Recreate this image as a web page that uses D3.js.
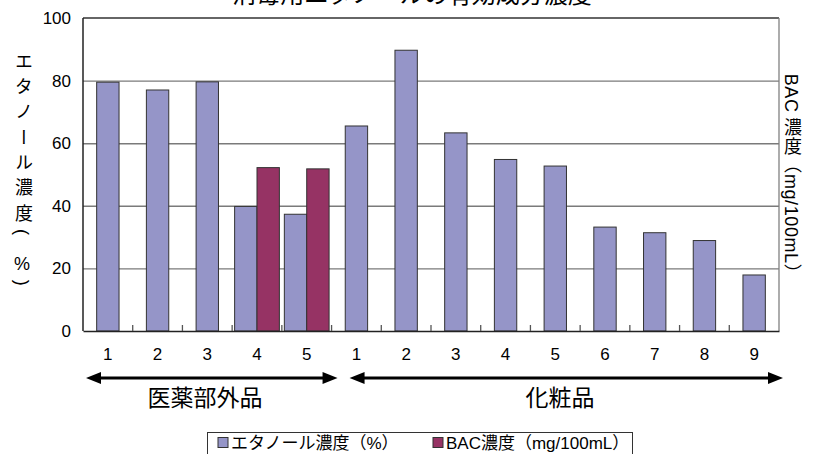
<!DOCTYPE html>
<html>
<head>
<meta charset="utf-8">
<script src="https://cdn.jsdelivr.net/npm/d3@7"></script>
<style>
  body { margin: 0; background: #fff; }
  text { font-family: "Liberation Sans", "Noto Sans CJK JP", sans-serif; fill: #000; }
</style>
</head>
<body>
<div id="chart"></div>
<script>
// Step 1: Data
// ==============================================================================
var groupNames = ["医薬部外品", "化粧品"];
var groupSizes = [5, 9];
var sampleLabels = ["1", "2", "3", "4", "5", "1", "2", "3", "4", "5", "6", "7", "8", "9"];
var ethanol = [79.5, 77, 79.6, 39.8, 37.3, 65.5, 89.7, 63.3, 54.8, 52.7, 33.2, 31.4, 28.9, 17.9];
var bac = [null, null, null, 52.2, 51.8, null, null, null, null, null, null, null, null, null];
var yTicks = [0, 20, 40, 60, 80, 100];
var seriesNames = ["エタノール濃度（%）", "BAC濃度（mg/100mL）"];
var colors = ["#9595c8", "#963364"];

// Step 2: Canvas
// ==============================================================================
var svgWidth = 814;
var svgHeight = 454;
var margin = { top: 18, right: 35, bottom: 123, left: 83 };
var width = svgWidth - margin.left - margin.right;
var height = svgHeight - margin.top - margin.bottom;

var svg = d3.select("#chart")
  .append("svg")
  .attr("width", svgWidth)
  .attr("height", svgHeight);

var chartGroup = svg.append("g")
  .attr("transform", `translate(${margin.left}, ${margin.top})`);

// Step 3: Scales
// ==============================================================================
var xScale = d3.scaleBand()
  .domain(d3.range(sampleLabels.length))
  .range([0, width]);
var yScale = d3.scaleLinear().domain([0, 100]).range([height, 0]);
var bw = xScale.bandwidth();
var barW = bw * 0.45;

// Step 4: Gridlines + left axis
// ==============================================================================
var leftAxis = d3.axisLeft(yScale)
  .tickValues(yTicks)
  .tickSize(-width)
  .tickPadding(12);

var yAxisG = chartGroup.append("g").call(leftAxis);
yAxisG.select(".domain").remove();
yAxisG.selectAll(".tick line")
  .attr("stroke", d => (d === 0 || d === 100) ? "none" : "#7a7a7a")
  .attr("stroke-width", 1.4);
yAxisG.selectAll(".tick text")
  .attr("font-size", 17)
  .attr("font-family", "Liberation Sans, sans-serif");

// plot frame
chartGroup.append("line")
  .attr("x1", 0).attr("x2", width).attr("y1", 0).attr("y2", 0)
  .attr("stroke", "#333").attr("stroke-width", 1.5);
chartGroup.append("line")
  .attr("x1", width).attr("x2", width).attr("y1", 0).attr("y2", height)
  .attr("stroke", "#808080").attr("stroke-width", 1.3);

// Step 5: Bars
// ==============================================================================
var rows = sampleLabels.map(function(lab, i) {
  return { i: i, eth: ethanol[i], bac: bac[i] };
});

chartGroup.selectAll(".ethBar")
  .data(rows)
  .enter()
  .append("rect")
  .attr("class", "ethBar")
  .attr("x", d => d.bac == null ? xScale(d.i) + (bw - barW) / 2 : xScale(d.i) + bw / 2 - barW)
  .attr("y", d => yScale(d.eth))
  .attr("width", barW)
  .attr("height", d => height - yScale(d.eth))
  .attr("fill", colors[0])
  .attr("stroke", "#333")
  .attr("stroke-width", 1);

chartGroup.selectAll(".bacBar")
  .data(rows.filter(d => d.bac != null))
  .enter()
  .append("rect")
  .attr("class", "bacBar")
  .attr("x", d => xScale(d.i) + bw / 2)
  .attr("y", d => yScale(d.bac))
  .attr("width", barW)
  .attr("height", d => height - yScale(d.bac))
  .attr("fill", colors[1])
  .attr("stroke", "#333")
  .attr("stroke-width", 1);

// Step 6: Axes lines + category ticks
// ==============================================================================
chartGroup.append("line")
  .attr("x1", 0).attr("x2", 0).attr("y1", 0).attr("y2", height)
  .attr("stroke", "#222").attr("stroke-width", 1.5);

var bottomAxis = d3.axisBottom(xScale)
  .tickFormat(i => sampleLabels[i])
  .tickSize(0)
  .tickPadding(17);
var xAxisG = chartGroup.append("g")
  .attr("transform", `translate(0, ${height})`)
  .call(bottomAxis);
xAxisG.select(".domain").attr("stroke", "#222").attr("stroke-width", 1.5);
xAxisG.selectAll(".tick text")
  .attr("font-size", 17)
  .attr("font-family", "Liberation Sans, sans-serif");

// small boundary ticks pointing up
chartGroup.selectAll(".catTick")
  .data(d3.range(1, sampleLabels.length))
  .enter()
  .append("line")
  .attr("x1", i => xScale(i)).attr("x2", i => xScale(i))
  .attr("y1", height).attr("y2", height - 6)
  .attr("stroke", "#555").attr("stroke-width", 1.3);

// Step 7: Group arrows and names
// ==============================================================================
var arrowY = height + 47;
var split = xScale(groupSizes[0]);
var arrows = [
  { x1: 3, x2: split + 6, name: groupNames[0], cx: 122 },
  { x1: split + 18, x2: width + 4, name: groupNames[1], cx: 477 }
];

function tri(x, dir) {
  // dir: -1 points left, 1 points right
  return `M${x},${arrowY} L${x - dir * 15},${arrowY - 6} L${x - dir * 15},${arrowY + 6} Z`;
}

arrows.forEach(function(a) {
  chartGroup.append("line")
    .attr("x1", a.x1 + 10).attr("x2", a.x2 - 10)
    .attr("y1", arrowY).attr("y2", arrowY)
    .attr("stroke", "#000").attr("stroke-width", 3);
  chartGroup.append("path").attr("d", tri(a.x1, -1)).attr("fill", "#000");
  chartGroup.append("path").attr("d", tri(a.x2, 1)).attr("fill", "#000");
  chartGroup.append("text")
    .attr("x", a.cx).attr("y", height + 75)
    .attr("text-anchor", "middle")
    .attr("font-size", 23)
    .attr("font-family", "Noto Sans CJK JP")
    .text(a.name);
});

// Step 8: Axis titles and (cropped) chart title
// ==============================================================================
svg.append("text")
  .attr("x", 412).attr("y", 3)
  .attr("text-anchor", "middle")
  .attr("font-size", 24)
  .attr("font-family", "Noto Sans CJK JP")
  .text("消毒用エタノールの有効成分濃度");

var leftChars = ["エ", "タ", "ノ", "ー", "ル", "濃", "度", "(", "%", ")"];
svg.selectAll(".yLabChar")
  .data(leftChars)
  .enter()
  .append("text")
  .attr("class", "yLabChar")
  .attr("x", 22)
  .attr("y", (d, i) => 52 + i * 25.3)
  .attr("font-size", 18)
  .attr("font-family", "Noto Sans CJK JP")
  .style("writing-mode", "vertical-rl")
  .style("text-orientation", d => d === "%" ? "upright" : "mixed")
  .text(d => d);

svg.append("text")
  .attr("x", 791).attr("y", 178)
  .attr("text-anchor", "middle")
  .attr("font-size", 18)
  .attr("letter-spacing", 0.6)
  .attr("font-family", "Noto Sans CJK JP")
  .style("writing-mode", "vertical-rl")
  .text("BAC 濃度（mg/100mL）");

// Step 9: Legend
// ==============================================================================
var legend = svg.append("g");
legend.append("rect")
  .attr("x", 207.5).attr("y", 432.5)
  .attr("width", 425).attr("height", 30)
  .attr("fill", "#fff").attr("stroke", "#333").attr("stroke-width", 1);

var legendX = [218, 433];
seriesNames.forEach(function(name, i) {
  legend.append("rect")
    .attr("x", legendX[i]).attr("y", 437.5)
    .attr("width", 10).attr("height", 10)
    .attr("fill", colors[i]).attr("stroke", "#333");
  legend.append("text")
    .attr("x", legendX[i] + 13).attr("y", 449)
    .attr("font-size", 17)
    .text(name);
});
</script>
</body>
</html>
